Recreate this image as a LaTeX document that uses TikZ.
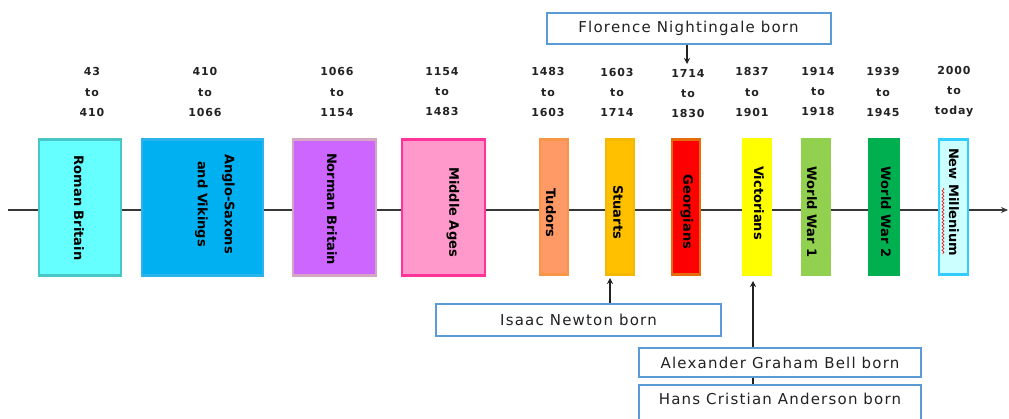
\documentclass[tikz,border=0pt]{standalone}
\usepackage{fontspec}
\setmainfont{DejaVu Sans}
\usetikzlibrary{arrows.meta,decorations.pathmorphing}
\definecolor{romanF}{HTML}{66FFFF}\definecolor{romanD}{HTML}{4BC6C6}
\definecolor{angloF}{HTML}{00B0F0}\definecolor{angloD}{HTML}{2AB4EC}
\definecolor{normanF}{HTML}{CC66FF}\definecolor{normanD}{HTML}{D5A6C4}
\definecolor{middleF}{HTML}{FF99CC}\definecolor{middleD}{HTML}{FF3399}
\definecolor{tudorF}{HTML}{FF9966}\definecolor{tudorD}{HTML}{F79646}
\definecolor{stuartF}{HTML}{FFC000}\definecolor{stuartD}{HTML}{F5B800}
\definecolor{georgF}{HTML}{FF0000}\definecolor{georgD}{HTML}{E46C0A}
\definecolor{victF}{HTML}{FFFF00}
\definecolor{wwoneF}{HTML}{92D050}
\definecolor{wwtwoF}{HTML}{00B050}
\definecolor{millF}{HTML}{CCFFFF}\definecolor{millD}{HTML}{33CCFF}
\definecolor{noteD}{HTML}{5B9BD5}
\definecolor{ink}{HTML}{222222}
\begin{document}
\begin{tikzpicture}[x=1pt,y=-1pt,
  era/.style={draw, line width=2.5pt, inner sep=0pt, minimum height=136pt},
  eralabel/.style={rotate=-90, inner sep=0pt, font=\fontsize{13}{27}\selectfont\bfseries, align=center, text=black},
  datelabel/.style={align=center, inner sep=0pt, font=\fontsize{11}{20}\selectfont\bfseries\addfontfeatures{LetterSpace=8}, text=ink},
  notebox/.style={draw=noteD, line width=2pt, fill=white, inner sep=0pt, minimum width=284pt, font=\fontsize{15}{17}\selectfont\addfontfeatures{LetterSpace=8}, text=ink},
  arr/.style={line width=2pt, draw=ink, -{Stealth[length=6pt,width=6pt]}},
  timeline/.style={line width=2pt, draw=ink!90, -{Stealth[length=7pt,width=6pt]}}
]
\useasboundingbox (0,0) rectangle (1009,419);
\clip (0,0) rectangle (1009,419);
\fill[white] (0,0) rectangle (1009,419);

% timeline
\coordinate (tlS) at (8,210);
\coordinate (tlE) at (1008,210);
\draw[timeline] (tlS) -- (tlE);

% era boxes
\node[era, fill=romanF, draw=romanD, minimum width=82pt] (roman) at (80,207.5) {};
\node[era, fill=angloF, draw=angloD, minimum width=121pt] (anglo) at (202.5,207.5) {};
\node[era, fill=normanF, draw=normanD, minimum width=83pt] (norman) at (334.5,207.5) {};
\node[era, fill=middleF, draw=middleD, minimum width=83pt] (middle) at (443.5,207.5) {};
\node[era, fill=tudorF, draw=tudorD, minimum width=28pt, minimum height=135pt] (tudors) at (554,207) {};
\node[era, fill=stuartF, draw=stuartD, minimum width=28pt, minimum height=135pt] (stuarts) at (620,207) {};
\node[era, fill=georgF, draw=georgD, minimum width=28pt, minimum height=135pt] (georgians) at (686,207) {};
\node[era, fill=victF, draw=victF, minimum width=28pt, minimum height=135pt] (victorians) at (757,207) {};
\node[era, fill=wwoneF, draw=wwoneF, minimum width=28pt, minimum height=135pt] (wwone) at (816,207) {};
\node[era, fill=wwtwoF, draw=wwtwoF, minimum width=30pt, minimum height=135pt] (wwtwo) at (884,207) {};
\node[era, fill=millF, draw=millD, minimum width=29pt, minimum height=135pt] (mill) at (953.5,207) {};

% era labels
\node[eralabel] (romanT) at (79,208) {Roman Britain};
\node[eralabel] (angloT) at (215,204) {Anglo-Saxons\\and Vikings};
\node[eralabel] (normanT) at (332,209) {Norman Britain};
\node[eralabel] (middleT) at (453,212) {Middle Ages};
\node[eralabel] (tudorsT) at (551,213) {Tudors};
\node[eralabel] (stuartsT) at (618,212) {Stuarts};
\node[eralabel] (georgiansT) at (687,212) {Georgians};
\node[eralabel] (victoriansT) at (759,203) {Victorians};
\node[eralabel] (wwoneT) at (812,212) {World War 1};
\node[eralabel] (wwtwoT) at (886,212) {World War 2};
\node[eralabel] (millT) at (954,202) {New Millenium};
\draw[red, line width=0.6pt, decorate, decoration={snake, amplitude=1pt, segment length=3.5pt}] (943,188) -- (943,254);

% date labels
\node[datelabel] (d1) at (92,92) {43\\to\\410};
\node[datelabel] (d2) at (205,92) {410\\to\\1066};
\node[datelabel] (d3) at (337,92) {1066\\to\\1154};
\node[datelabel] (d4) at (442,92) {1154\\to\\1483};
\node[datelabel] (d5) at (548,92) {1483\\to\\1603};
\node[datelabel] (d6) at (617,92) {1603\\to\\1714};
\node[datelabel] (d7) at (688,94) {1714\\to\\1830};
\node[datelabel] (d8) at (752,92) {1837\\to\\1901};
\node[datelabel] (d9) at (818,92) {1914\\to\\1918};
\node[datelabel] (d10) at (883,92) {1939\\to\\1945};
\node[datelabel] (d11) at (954,92) {2000\\to\\today};

% notes
\node[notebox, minimum height=31pt] (flo) at (688.5,28.5) {Florence Nightingale born};
\node[notebox, minimum width=285pt, minimum height=32pt] (isaac) at (578.5,320) {Isaac Newton born};
\node[notebox, minimum width=282pt, minimum height=29pt] (bell) at (780,362.5) {Alexander Graham Bell born};
\node[notebox, minimum width=282pt, minimum height=44pt] (hansbox) at (780,407) {};
\node[inner sep=0pt, font=\fontsize{15}{17}\selectfont\addfontfeatures{LetterSpace=8}, text=ink] (hans) at (780,399) {Hans Cristian Anderson born};

% connectors
\coordinate (floTip) at (687,64);
\coordinate (newtonTip) at (610,278);
\coordinate (bellTip) at (753,281);
\draw[arr] (flo.south -| floTip) -- (floTip);
\draw[arr] (isaac.north -| newtonTip) -- (newtonTip);
\draw[arr] (bell.north -| bellTip) -- (bellTip);
\draw[line width=2pt, draw=ink] (hansbox.north -| bellTip) -- (bell.south -| bellTip);
\end{tikzpicture}
\end{document}
